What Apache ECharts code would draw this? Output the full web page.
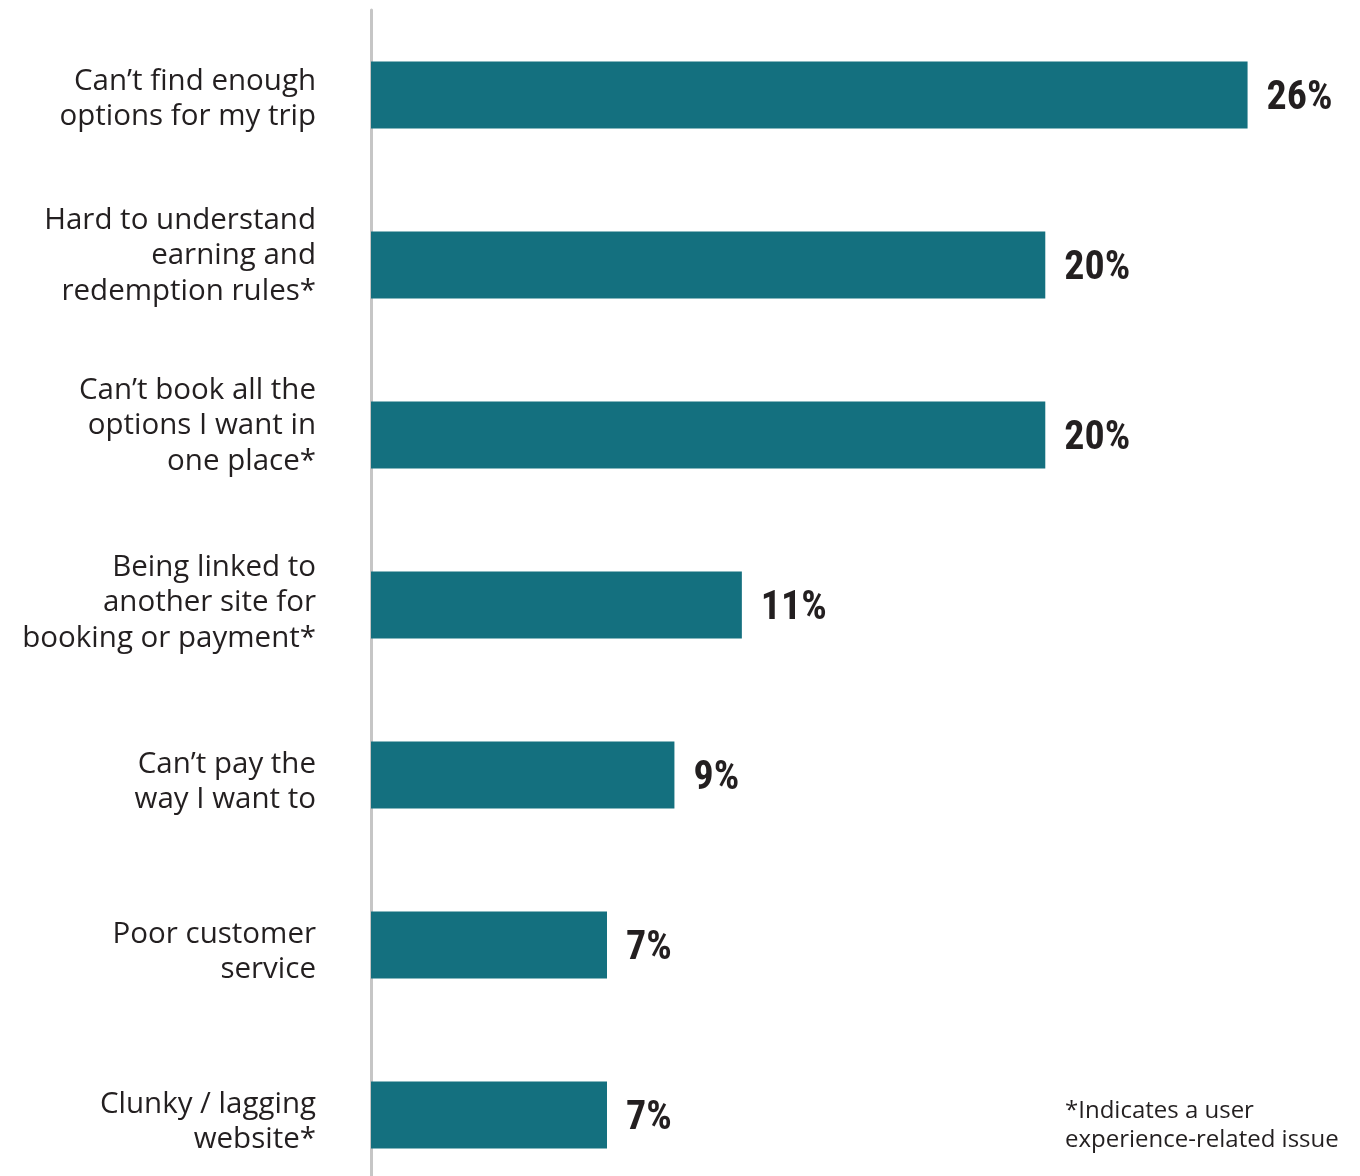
<!DOCTYPE html>
<html>
<head>
<meta charset="utf-8">
<style>
  html, body { margin: 0; padding: 0; background: #ffffff; }
  #chart { width: 1360px; height: 1176px; }
</style>
<script src="https://cdn.jsdelivr.net/npm/echarts@6/dist/echarts.min.js"></script>
</head>
<body>
<div id="chart"></div>
<script>
// Reasons travellers give for frustration with booking through loyalty programs
const categories = [
  "Can\u2019t find enough\noptions for my trip",
  "Hard to understand\nearning and\nredemption rules*",
  "Can\u2019t book all the\noptions I want in\none place*",
  "Being linked to\nanother site for\nbooking or payment*",
  "Can\u2019t pay the\nway I want to",
  "Poor customer\nservice",
  "Clunky / lagging\nwebsite*"
];
const shares = [26, 20, 20, 11, 9, 7, 7];
const footnote = "*Indicates a user\nexperience-related issue";

// Small vertical nudges (px) so each wrapped label sits where the typeset version does.
// A spacer line of height 2*|nudge| is added above (down) or below (up) the label text.
const labelNudge = [4, -9, -9, -2, 7, 7, 7];
const spacerStyles = {};
labelNudge.forEach(function (s) {
  const h = Math.abs(s);
  if (h) spacerStyles['g' + h] = { fontSize: 1, lineHeight: 2 * h };
});

const chart = echarts.init(document.getElementById('chart'), null, { renderer: 'canvas' });

chart.setOption({
  backgroundColor: '#ffffff',
  animation: false,
  grid: { left: 371, top: 10, width: 944, height: 1190, outerBoundsMode: 'none', containLabel: false },
  xAxis: {
    type: 'value',
    min: 0,
    max: 28,
    show: false
  },
  yAxis: {
    type: 'category',
    data: categories,
    inverse: true,
    axisLine: { show: true, lineStyle: { color: '#c6c6c6', width: 3 } },
    axisTick: { show: false },
    splitLine: { show: false },
    axisLabel: {
      margin: 55,
      fontFamily: '"Open Sans", sans-serif',
      fontSize: 29.5,
      lineHeight: 35.5,
      color: '#231f20',
      align: 'right',
      formatter: function (value, index) {
        const s = labelNudge[index] || 0;
        if (!s) return value;
        const spacer = '{g' + Math.abs(s) + '| }';
        return s > 0 ? spacer + '\n' + value : value + '\n' + spacer;
      },
      rich: spacerStyles
    }
  },
  series: [{
    type: 'bar',
    data: shares,
    barWidth: 67,
    itemStyle: { color: '#14707f' },
    label: {
      show: true,
      position: 'right',
      distance: 19,
      offset: [0, 4],
      formatter: '{c}%',
      fontFamily: 'Roboto Condensed, DejaVu Sans Condensed, Liberation Sans Narrow, Arial Narrow, sans-serif',
      fontWeight: 'bold',
      fontSize: 40,
      color: '#231f20'
    }
  }],
  graphic: [{
    type: 'text',
    left: 1065,
    top: 1097,
    style: {
      text: footnote,
      fontFamily: '"Open Sans", sans-serif',
      fontSize: 24,
      lineHeight: 29,
      fill: '#231f20'
    }
  }]
});
</script>
</body>
</html>
